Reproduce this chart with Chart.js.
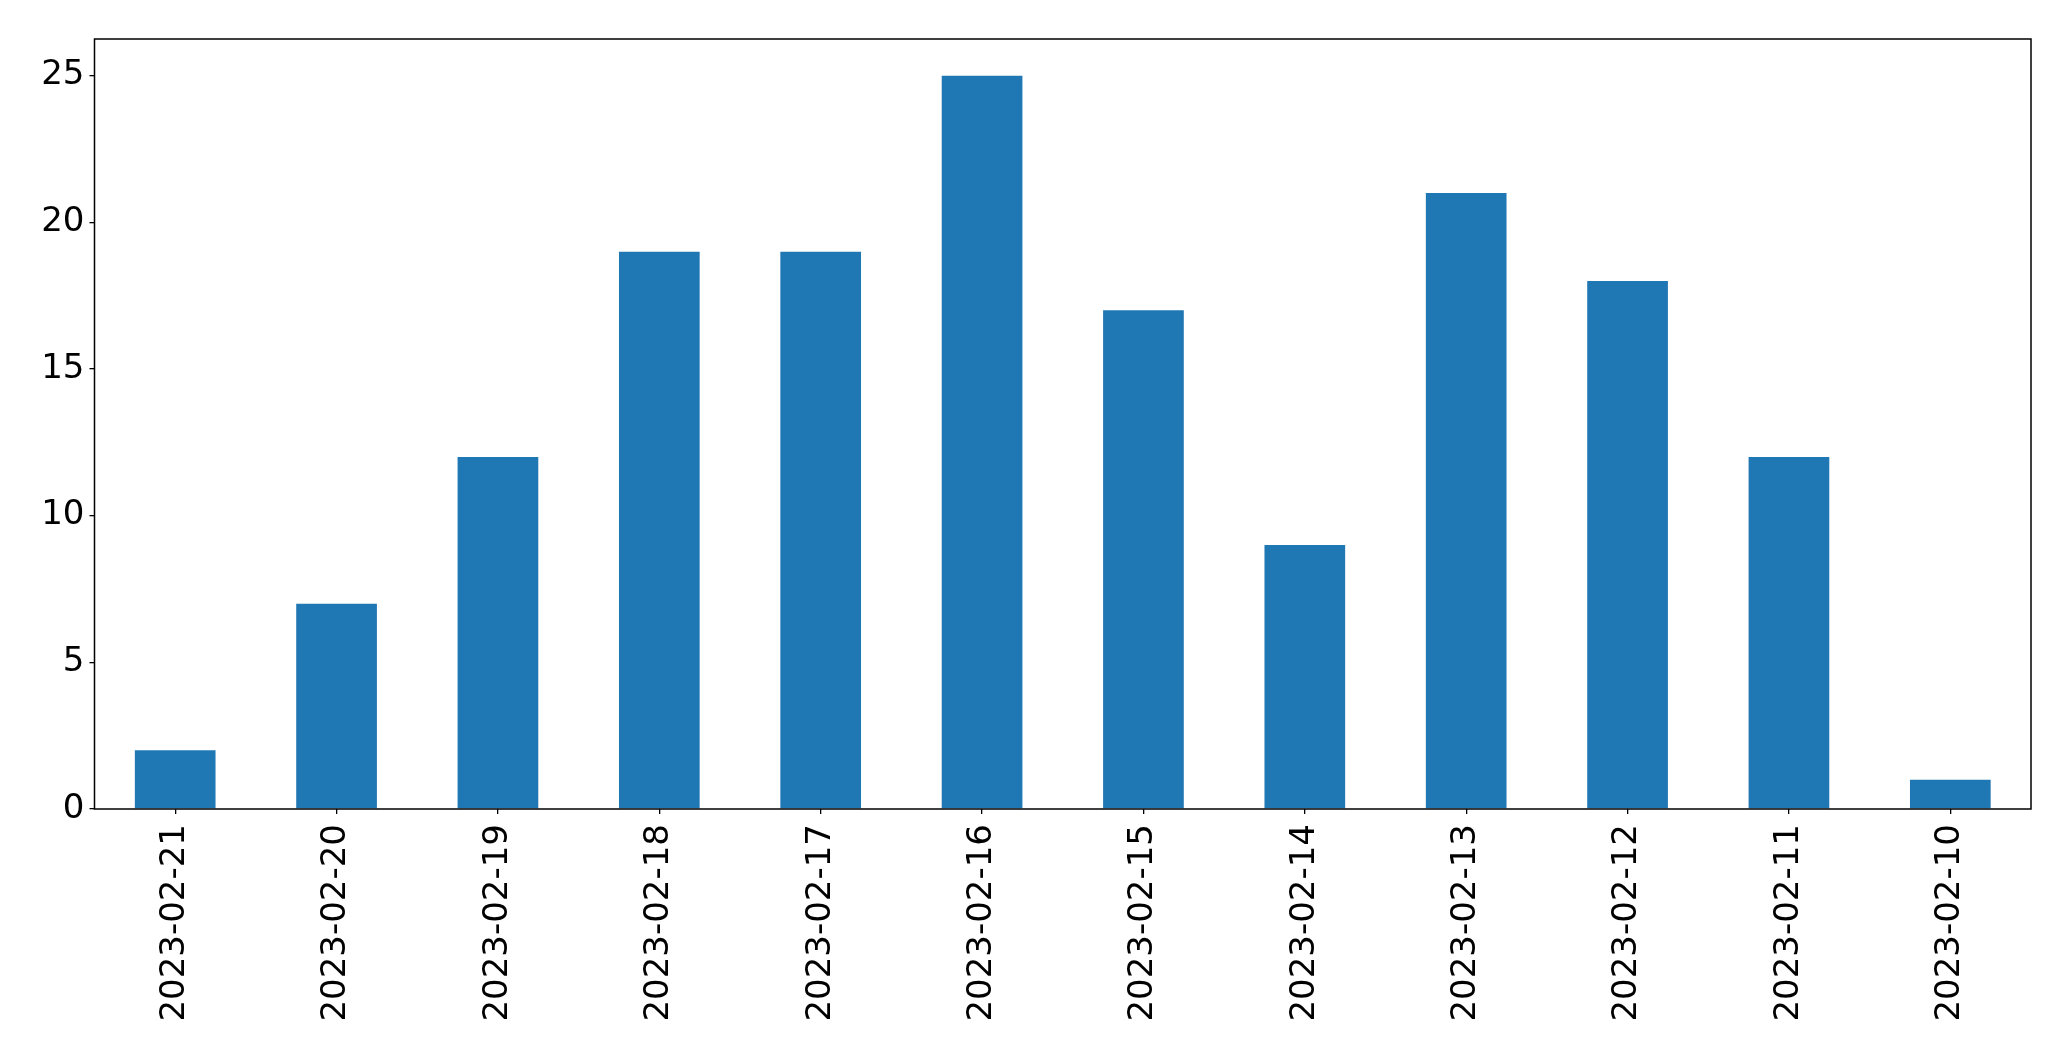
<!DOCTYPE html>
<html>
<head>
<meta charset="utf-8">
<script src="https://cdn.jsdelivr.net/npm/chart.js@4/dist/chart.umd.min.js"></script>
<style>
  html, body { margin: 0; padding: 0; background: #fff; }
  #wrap { width: 2071px; height: 1061px; }
</style>
</head>
<body>
<div id="wrap"><canvas id="myChart" width="2071" height="1061"></canvas></div>
<script>
// data
const dates = ['2023-02-21', '2023-02-20', '2023-02-19', '2023-02-18', '2023-02-17', '2023-02-16',
	'2023-02-15', '2023-02-14', '2023-02-13', '2023-02-12', '2023-02-11', '2023-02-10'];
const counts = [2, 7, 12, 19, 19, 25, 17, 9, 21, 18, 12, 1];
const yTicks = [0, 5, 10, 15, 20, 25];

const tickFont = { family: 'DejaVu Sans', size: 34 };

// frame round the plot area (top and right sides too)
const frame = {
	id: 'frame',
	afterDatasetsDraw(chart) {
		const a = chart.chartArea;
		const ctx = chart.ctx;
		ctx.save();
		ctx.strokeStyle = '#000';
		ctx.lineWidth = 1.5;
		ctx.strokeRect(a.left, a.top, a.right - a.left, a.bottom - a.top);
		ctx.restore();
	}
};

new Chart(document.getElementById('myChart'), {
	type: 'bar',
	data: {
		labels: dates,
		datasets: [{
			data: counts,
			backgroundColor: '#1f77b4',
			borderWidth: 0,
			categoryPercentage: 1.0,
			barPercentage: 0.5
		}]
	},
	options: {
		responsive: false,
		animation: false,
		layout: { padding: { top: 39, right: 40, left: 0, bottom: 0 } },
		plugins: { legend: { display: false }, tooltip: { enabled: false } },
		scales: {
			x: {
				offset: true,
				grid: { display: true, offset: false, drawOnChartArea: false, drawTicks: true, tickLength: 5, color: '#000', lineWidth: 1.3 },
				border: { display: false },
				ticks: { color: '#000', font: tickFont, minRotation: 90, maxRotation: 90, autoSkip: false, padding: 10 },
				afterFit(scale) { scale.height = 252; }
			},
			y: {
				min: 0,
				max: 26.25,
				afterBuildTicks(scale) { scale.ticks = yTicks.map(v => ({ value: v })); },
				grid: { display: true, drawOnChartArea: false, drawTicks: true, tickLength: 5, color: '#000', lineWidth: 1.3 },
				border: { display: false },
				ticks: { color: '#000', font: tickFont, padding: 5 },
				afterFit(scale) { scale.width = 94.5; }
			}
		}
	},
	plugins: [frame]
});
</script>
</body>
</html>
